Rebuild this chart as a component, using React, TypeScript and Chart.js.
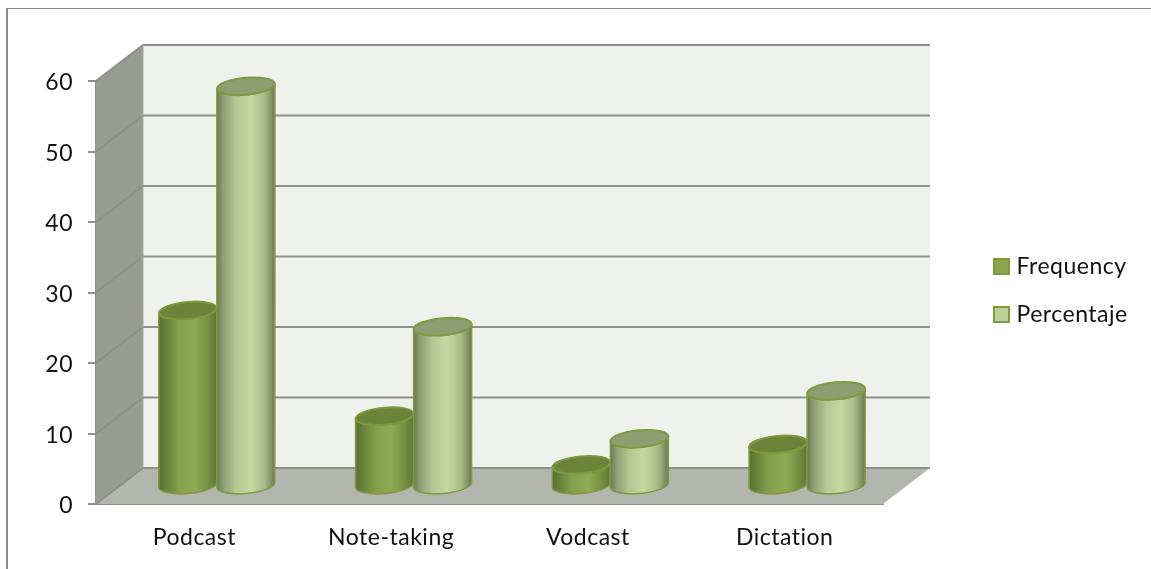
import React, { useEffect, useRef } from "react";
import { Chart, registerables } from "chart.js";

Chart.register(...registerables);

const categories = ["Podcast", "Note-taking", "Vodcast", "Dictation"];
const frequency = [24.9, 9.9, 3.0, 5.9];
const percentaje = [56.7, 22.6, 6.7, 13.5];
const yTicks = [0, 10, 20, 30, 40, 50, 60];

const FONT = "Lato";
const FONT_SIZE = 23;
const INK = "#111111";
const DEPTH_X = 47;
const DEPTH_Y = 36;
const GREY = "#8f908e";
const LEGEND_ROOM = 268;

const LOOK = [
  {
    swatch: "#8aa54e", swatchEdge: "#7a9a3c",
    stops: [[0, "#56702e"], [0.12, "#66823a"], [0.35, "#84a04c"], [0.62, "#8fab55"], [0.85, "#748f42"], [1, "#5c7633"]],
    top: "#6c8439", edge: "#7d993f",
  },
  {
    swatch: "#bcd096", swatchEdge: "#7d9a3f",
    stops: [[0, "#69784f"], [0.1, "#8d9c74"], [0.32, "#b4c692"], [0.58, "#c6d9a1"], [0.82, "#a9ba88"], [0.95, "#7d8c63"], [1, "#6a7a4f"]],
    top: "#8e9e72", edge: "#7d9a3f",
  },
];

const chrome = {
  id: "chrome",
  beforeLayout(chart: any) {
    const lg = chart.legend;
    if (lg && !lg._roomFixed) {
      const fit = lg.fit;
      lg.fit = function () {
        fit.call(this);
        this.width = LEGEND_ROOM;
      };
      lg._roomFixed = true;
    }
  },
  afterLayout(chart: any) {
    const lg = chart.legend;
    const pad = lg.options.labels.padding;
    const w = lg.width;
    lg.left = 998 - pad;
    lg.right = lg.left + w;
    lg.top = 255 - pad;
    lg.bottom = lg.top + lg.height;
  },
  beforeDraw(chart: any) {
    chart.ctx.letterSpacing = "0.5px";
  },
  beforeDatasetsDraw(chart: any) {
    const { ctx, chartArea: a, scales } = chart;
    const y = scales.y;
    const L = a.left, R = a.right, B = a.bottom, T = a.top;
    ctx.save();
    // outer frame
    ctx.fillStyle = "#8c8c8c";
    ctx.fillRect(6, 8, 1145, 1);
    ctx.fillRect(6, 8, 2, 561);
    // back wall
    ctx.fillStyle = "#eff2ec";
    ctx.fillRect(L + DEPTH_X, T - DEPTH_Y, R - L, B - T);
    // side wall
    ctx.fillStyle = "#989a94";
    ctx.beginPath();
    ctx.moveTo(L, T); ctx.lineTo(L + DEPTH_X, T - DEPTH_Y);
    ctx.lineTo(L + DEPTH_X, B - DEPTH_Y); ctx.lineTo(L, B);
    ctx.closePath(); ctx.fill();
    // floor
    ctx.fillStyle = "#b3b5af";
    ctx.beginPath();
    ctx.moveTo(L, B); ctx.lineTo(L + DEPTH_X, B - DEPTH_Y);
    ctx.lineTo(R + DEPTH_X, B - DEPTH_Y); ctx.lineTo(R, B);
    ctx.closePath(); ctx.fill();
    // grid lines
    ctx.strokeStyle = GREY;
    ctx.lineWidth = 2;
    for (const t of yTicks) {
      const py = y.getPixelForValue(t);
      ctx.beginPath();
      ctx.moveTo(L, py);
      ctx.lineTo(L + DEPTH_X, py - DEPTH_Y);
      ctx.lineTo(R + DEPTH_X, py - DEPTH_Y);
      ctx.stroke();
    }
    ctx.beginPath();
    ctx.moveTo(L + DEPTH_X, T - DEPTH_Y);
    ctx.lineTo(L + DEPTH_X, B - DEPTH_Y);
    ctx.strokeStyle = "#a6a8a3";
    ctx.lineWidth = 1;
    ctx.stroke();
    ctx.restore();
  },
  afterDatasetsDraw(chart: any) {
    const { ctx } = chart;
    const dx = DEPTH_X / 2 - 1;
    const dy = DEPTH_Y / 2;
    const ry = 8.5;
    const tilt = -0.09;
    chart.data.datasets.forEach((_: any, di: number) => {
      const look = LOOK[di];
      chart.getDatasetMeta(di).data.forEach((bar: any) => {
        const cx = bar.x + dx;
        const topY = bar.y - dy;
        const baseY = bar.base - dy;
        const rx = bar.width / 2;
        const sy = Math.sin(tilt) * rx;
        ctx.save();
        const g = ctx.createLinearGradient(cx - rx, 0, cx + rx, 0);
        look.stops.forEach(([o, c]: any) => g.addColorStop(o, c));
        // body
        ctx.beginPath();
        ctx.moveTo(cx - rx, topY - sy);
        ctx.lineTo(cx - rx, baseY - sy);
        ctx.ellipse(cx, baseY, rx, ry, tilt, Math.PI, 0, true);
        ctx.lineTo(cx + rx, topY + sy);
        ctx.ellipse(cx, topY, rx, ry, tilt, 0, Math.PI, false);
        ctx.closePath();
        ctx.fillStyle = g;
        ctx.fill();
        ctx.strokeStyle = look.edge;
        ctx.lineWidth = 1.5;
        ctx.stroke();
        // cap
        ctx.beginPath();
        ctx.ellipse(cx, topY, rx, ry, tilt, 0, Math.PI * 2);
        ctx.fillStyle = look.top;
        ctx.fill();
        ctx.lineWidth = 2;
        ctx.stroke();
        ctx.restore();
      });
    });
  },
};

function makeSwatch(fill: string, edge: string) {
  const c = document.createElement("canvas");
  c.width = 17;
  c.height = 17;
  const x = c.getContext("2d")!;
  x.fillStyle = fill;
  x.fillRect(0, 0, 17, 17);
  x.strokeStyle = edge;
  x.lineWidth = 2;
  x.strokeRect(1, 1, 15, 15);
  return c;
}

export default function App() {
  const ref = useRef<HTMLCanvasElement>(null);
  useEffect(() => {
    const swatches = LOOK.map((l) => makeSwatch(l.swatch, l.swatchEdge));
    const chart = new Chart(ref.current!, {
      type: "bar",
      data: {
        labels: categories,
        datasets: [
          { label: "Frequency", data: frequency, backgroundColor: "rgba(0,0,0,0)", borderWidth: 0 },
          { label: "Percentaje", data: percentaje, backgroundColor: "rgba(0,0,0,0)", borderWidth: 0 },
        ],
      },
      options: {
        responsive: false,
        animation: false,
        layout: { padding: { top: 81, left: 0, right: 0, bottom: 0 } },
        datasets: { bar: { categoryPercentage: 0.59, barPercentage: 1 } },
        scales: {
          x: {
            afterFit: (s: any) => { s.height = 569 - 504; },
            grid: { display: false, drawOnChartArea: false, drawTicks: false },
            border: { display: true, color: GREY, width: 2 },
            ticks: { font: { family: FONT, size: FONT_SIZE }, color: INK, padding: 20, maxRotation: 0 },
          },
          y: {
            min: 0,
            max: 60,
            afterFit: (s: any) => { s.width = 96; },
            grid: { drawOnChartArea: false, drawTicks: true, tickLength: 8, color: GREY, lineWidth: 2 },
            border: { display: true, color: GREY, width: 2 },
            afterBuildTicks: (s: any) => { s.ticks = yTicks.map((value) => ({ value })); },
            ticks: { font: { family: FONT, size: FONT_SIZE }, color: INK, padding: 15, labelOffset: 2 },
          },
        },
        plugins: {
          title: { display: false },
          tooltip: { enabled: false },
          legend: {
            display: true,
            position: "right",
            align: "start",
            labels: {
              usePointStyle: true,
              pointStyleWidth: 7,
              boxHeight: FONT_SIZE,
              padding: 25,
              color: INK,
              font: { family: FONT, size: FONT_SIZE },
              generateLabels: (c: any) =>
                Chart.defaults.plugins.legend.labels
                  .generateLabels(c)
                  .map((it: any, i: number) => ({ ...it, pointStyle: swatches[i] })),
            },
          },
        },
      } as any,
      plugins: [chrome],
    });
    return () => chart.destroy();
  }, []);
  return (
    <div style={{ position: "absolute", left: 0, top: 0, width: 1151, height: 569 }}>
      <canvas ref={ref} width={1151} height={569} style={{ display: "block" }} />
    </div>
  );
}
